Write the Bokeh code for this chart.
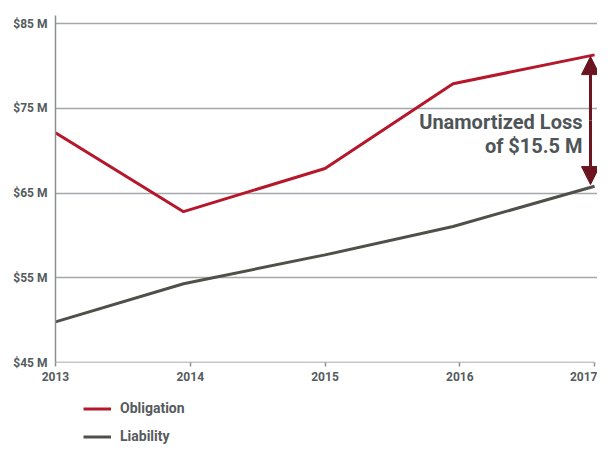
from bokeh.plotting import figure
from bokeh.layouts import column
from bokeh.models import Range1d, FixedTicker, Legend, LegendItem, Arrow, NormalHead, Label
from bokeh.embed import file_html
from bokeh.resources import INLINE

# Data
years = [2013, 2013.95, 2015, 2015.95, 2017]
obligation = [72.1, 62.8, 67.9, 77.9, 81.3]
liability = [49.8, 54.3, 57.7, 61.05, 65.8]
x_ticks = [2013, 2014, 2015, 2016, 2017]
y_ticks = [45, 55, 65, 75, 85]
y_tick_labels = ["$45 M", "$55 M", "$65 M", "$75 M", "$85 M"]
series_names = ["Obligation", "Liability"]
note_text = "Unamortized Loss\nof $15.5 M"

RED = "#b5182b"
DARK = "#4f5049"
TXT = "#555b5e"
GRID = "#a4a8aa"
MAROON = "#6b1520"
FONT = "Roboto"

p = figure(width=597, height=390, output_backend="svg", toolbar_location=None,
           x_range=Range1d(2013, 2017.022), y_range=Range1d(45, 85.95),
           min_border_left=55, min_border_right=0, min_border_top=15, min_border_bottom=28)
p.outline_line_color = None

# axes
p.xaxis.ticker = FixedTicker(ticks=x_ticks)
p.xaxis.major_label_overrides = {t: str(t) for t in x_ticks}
p.xaxis.axis_line_color = None
p.xaxis.major_tick_line_color = "#8a8e90"
p.xaxis.major_tick_line_width = 1.5
p.xaxis.major_tick_out = 4
p.xaxis.major_tick_in = 0
p.xaxis.minor_tick_line_color = None
p.xaxis.major_label_standoff = 5

p.yaxis.ticker = FixedTicker(ticks=y_ticks)
p.yaxis.major_label_overrides = {t: l for t, l in zip(y_ticks, y_tick_labels)}
p.yaxis.axis_line_color = "#8a8e90"
p.yaxis.axis_line_width = 1.5
p.yaxis.major_tick_line_color = None
p.yaxis.minor_tick_line_color = None
p.yaxis.major_tick_out = 0
p.yaxis.major_label_standoff = 8

for ax in (p.xaxis, p.yaxis):
    ax.major_label_text_font = FONT
    ax.major_label_text_font_style = "bold"
    ax.major_label_text_font_size = "12px"
    ax.major_label_text_color = TXT

p.xgrid.grid_line_color = None
p.ygrid.ticker = FixedTicker(ticks=y_ticks[1:])
p.ygrid.grid_line_color = GRID
p.ygrid.grid_line_width = 1.5

# bottom axis line from first to last year
p.segment(x0=[x_ticks[0]], y0=[y_ticks[0]], x1=[x_ticks[-1]], y1=[y_ticks[0]],
          line_color="#8a8e90", line_width=1.5)

p.line(years, obligation, line_color=RED, line_width=3)
p.line(years, liability, line_color=DARK, line_width=3)

# annotation arrow
ax_x = years[-1] - 0.03
mid = (obligation[-1] + liability[-1]) / 2
arrow = Arrow(x_start=ax_x, y_start=mid, x_end=ax_x, y_end=obligation[-1] - 0.2,
              line_color=MAROON, line_width=3,
              end=NormalHead(size=18, fill_color=MAROON, line_color=MAROON))
arrow2 = Arrow(x_start=ax_x, y_start=mid, x_end=ax_x, y_end=liability[-1] + 0.2,
               line_color=MAROON, line_width=3,
               end=NormalHead(size=18, fill_color=MAROON, line_color=MAROON))
p.add_layout(arrow)
p.add_layout(arrow2)

lab = Label(x=ax_x, y=mid, x_offset=-8, y_offset=-13,
            text=note_text, text_align="right", text_baseline="middle",
            text_font=FONT, text_font_size="20px", text_font_style="bold",
            text_color="#4e5558", text_line_height=1.0)
p.add_layout(lab)

# legend panel below
pl = figure(width=597, height=54, output_backend="svg", toolbar_location=None,
            x_range=Range1d(0, 1), y_range=Range1d(0, 1),
            min_border_left=0, min_border_right=0, min_border_top=0, min_border_bottom=0)
pl.axis.visible = False
pl.grid.visible = False
pl.outline_line_color = None
nan = float("nan")
l1 = pl.line([nan], [nan], line_color=RED, line_width=3)
l2 = pl.line([nan], [nan], line_color=DARK, line_width=3)
legend = Legend(items=[LegendItem(label=series_names[0], renderers=[l1]),
                       LegendItem(label=series_names[1], renderers=[l2])],
                location=(28, 0), orientation="vertical")
legend.border_line_color = None
legend.background_fill_alpha = 0
legend.padding = 0
legend.margin = 0
legend.spacing = 12
legend.glyph_width = 28
legend.glyph_height = 15
legend.label_height = 15
legend.label_standoff = 9
legend.label_text_font = FONT
legend.label_text_font_style = "bold"
legend.label_text_font_size = "14px"
legend.label_text_color = TXT
pl.add_layout(legend, "center")

open("out.html", "w").write(file_html(column(p, pl), INLINE))
